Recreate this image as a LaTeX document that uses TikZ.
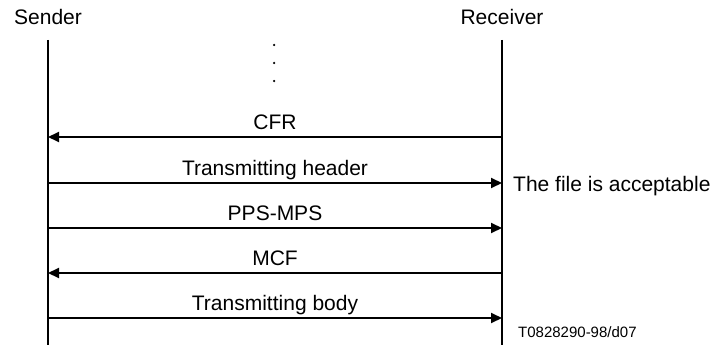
\documentclass[tikz,border=0pt]{standalone}
\usepackage{fontspec}
\setmainfont{Liberation Sans}
\usetikzlibrary{arrows.meta}
\begin{document}
\begin{tikzpicture}
      [x=1pt,y=-1pt,
       lifeline/.style={line width=1.5pt},
       msg/.style={line width=2pt,-{Triangle[length=11pt,width=10pt]}},
       msglabel/.style={anchor=base,yshift=8pt}]
      \tikzstyle{every node}=[font=\fontsize{21}{25}\selectfont,inner sep=0pt]
      \useasboundingbox (0,0) rectangle (720,345);
      \node[anchor=base] (sender) at (48,25) {Sender};
      \node[anchor=base] (receiver) at (502,25) {Receiver};
      \coordinate (stop) at (48,40);
      \coordinate (sbot) at (48,345);
      \coordinate (rtop) at (502,40);
      \coordinate (rbot) at (502,345);
      \draw[lifeline] (stop) -- (sbot);
      \draw[lifeline] (rtop) -- (rbot);
      % the dots
      \foreach \y [count=\i] in {45,63,81}
        \node[circle,fill,minimum size=2.5pt] (dot\i) at (274,\y) {};
      % message ends
      \foreach \y/\n in {137/cfr,183/header,228/pps,273/mcf,318/body}{
        \coordinate (s-\n) at (48,\y);
        \coordinate (r-\n) at (502,\y);
      }
      \draw[msg] (r-cfr) -- node[msglabel]{CFR} (s-cfr);
      \draw[msg] (s-header) -- node[msglabel]{Transmitting header} (r-header);
      \draw[msg] (s-pps) -- node[msglabel]{PPS-MPS} (r-pps);
      \draw[msg] (r-mcf) -- node[msglabel]{MCF} (s-mcf);
      \draw[msg] (s-body) -- node[msglabel]{Transmitting body} (r-body);
      \node[anchor=base west] (accept) at (513,191) {The file is acceptable};
      \node[anchor=base west,font=\fontsize{15}{18}\selectfont] (figid) at (518,337) {T0828290-98/d07};
    \end{tikzpicture}
\end{document}
